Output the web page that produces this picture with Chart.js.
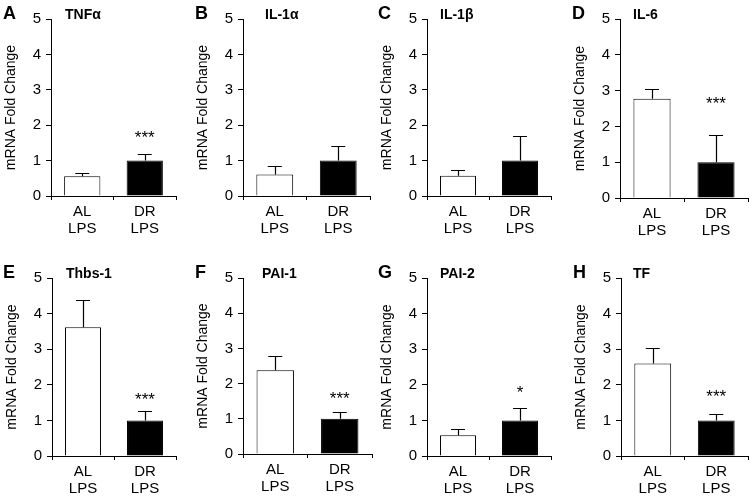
<!DOCTYPE html>
<html>
<head>
<meta charset="utf-8">
<script src="https://cdn.jsdelivr.net/npm/chart.js@4.4.1/dist/chart.umd.min.js"></script>
<style>
  body { margin: 0; background: #fff; width: 750px; height: 498px; position: relative; overflow: hidden; }
  .panel { position: absolute; }
</style>
</head>
<body>
<script>
// DATA
const panelLetters = ['A', 'B', 'C', 'D', 'E', 'F', 'G', 'H'];
const genes = ['TNFα', 'IL-1α', 'IL-1β', 'IL-6', 'Thbs-1', 'PAI-1', 'PAI-2', 'TF'];
const groups = [['AL', 'LPS'], ['DR', 'LPS']];
const yTicks = [0, 1, 2, 3, 4, 5];
const alMean = [0.56, 0.61, 0.57, 2.77, 3.62, 2.38, 0.58, 2.6];
const alErr  = [0.1, 0.24, 0.17, 0.28, 0.76, 0.4, 0.17, 0.43];
const drMean = [1, 1, 1, 1, 1, 1, 1, 1];
const drErr  = [0.2, 0.41, 0.7, 0.77, 0.26, 0.19, 0.36, 0.18];
const sigMark = ['***', '', '', '***', '***', '***', '*', '***'];
const sigLevel = [1.72, null, null, 2.7, 1.66, 1.65, 1.85, 1.72];

// LAYOUT (pixel frame of each panel's plot area)
const axisX  = [51, 243, 427, 620, 52, 243, 427, 621];
const axisR  = [176, 370, 551, 748, 176, 372, 551, 748];
const axisT  = [19, 19, 19, 19, 278, 278, 278, 278];
const axisB  = [196, 196, 196, 198, 456, 454, 456, 456];
const letterX = [3, 195, 378, 572, 3, 195, 378, 573];
const titleX  = [65, 265, 440, 633, 66, 262, 440, 633];

const LEFT = 52, TOP = 22, BOTTOM = 45, RIGHT = 4;
const FONT = "'Liberation Sans', Arial, sans-serif";

const decoPlugin = {
  id: 'panelDeco',
  afterDatasetsDraw(chart, args, opts) {
    const ctx = chart.ctx;
    const y = chart.scales.y;
    ctx.save();
    // error bars (upper only)
    chart.data.datasets[0].data.forEach((v, i) => {
      const bar = chart.getDatasetMeta(0).data[i];
      const yTop = y.getPixelForValue(v + opts.err[i]);
      const yBar = y.getPixelForValue(v);
      ctx.strokeStyle = '#000';
      ctx.lineWidth = 1.2;
      ctx.beginPath();
      ctx.moveTo(Math.round(bar.x) + 0.5, yBar);
      ctx.lineTo(Math.round(bar.x) + 0.5, Math.round(yTop) + 0.5);
      ctx.moveTo(bar.x - 7, Math.round(yTop) + 0.5);
      ctx.lineTo(bar.x + 7, Math.round(yTop) + 0.5);
      ctx.stroke();
    });
    // significance
    if (opts.sig) {
      const bar = chart.getDatasetMeta(0).data[1];
      ctx.fillStyle = '#000';
      ctx.font = '17px ' + FONT;
      ctx.textAlign = 'center';
      ctx.textBaseline = 'middle';
      ctx.fillText(opts.sig, bar.x, y.getPixelForValue(opts.sigAt) + 3);
    }
    // letter + gene name
    ctx.textAlign = 'left';
    ctx.textBaseline = 'alphabetic';
    ctx.fillStyle = '#000';
    ctx.font = 'bold 18px ' + FONT;
    ctx.fillText(opts.letter, opts.letterX, chart.chartArea.top + 0);
    ctx.font = 'bold 14px ' + FONT;
    ctx.fillText(opts.gene, opts.titleX, chart.chartArea.top + 0);
    ctx.restore();
  }
};

panelLetters.forEach((letter, p) => {
  const w = (axisR[p] - axisX[p]) + LEFT + RIGHT;
  const h = (axisB[p] - axisT[p]) + TOP + BOTTOM;
  const left = axisX[p] - LEFT;
  const top = axisT[p] - TOP;

  const div = document.createElement('div');
  div.className = 'panel';
  div.style.left = left + 'px';
  div.style.top = top + 'px';
  div.style.width = w + 'px';
  div.style.height = h + 'px';
  const canvas = document.createElement('canvas');
  div.appendChild(canvas);
  document.body.appendChild(div);

  new Chart(canvas, {
    type: 'bar',
    data: {
      labels: groups,
      datasets: [{
        data: [alMean[p], drMean[p]],
        backgroundColor: ['#ffffff', '#000000'],
        borderColor: '#000000',
        borderWidth: 1,
        categoryPercentage: 1,
        barPercentage: 0.58
      }]
    },
    options: {
      responsive: true,
      maintainAspectRatio: false,
      animation: false,
      layout: { padding: { top: TOP, bottom: 0, left: 0, right: RIGHT } },
      plugins: {
        legend: { display: false },
        tooltip: { enabled: false },
        panelDeco: {
          letter: letter,
          gene: genes[p],
          err: [alErr[p], drErr[p]],
          sig: sigMark[p],
          sigAt: sigLevel[p],
          letterX: letterX[p] - left,
          titleX: titleX[p] - left
        }
      },
      scales: {
        x: {
          afterFit: s => { s.height = BOTTOM; },
          grid: { display: true, drawOnChartArea: false, drawTicks: true, tickLength: 4, color: '#000', offset: true },
          border: { display: true, color: '#000', width: 1 },
          ticks: { color: '#000', padding: 3, font: { family: FONT, size: 15, lineHeight: 1.13 }, maxRotation: 0 }
        },
        y: {
          min: 0,
          max: 5,
          afterFit: s => { s.width = LEFT; },
          afterBuildTicks: s => { s.ticks = yTicks.map(v => ({ value: v })); },
          grid: { display: true, drawOnChartArea: false, drawTicks: true, tickLength: 5, color: '#000' },
          border: { display: true, color: '#000', width: 1 },
          ticks: { color: '#000', padding: 5, font: { family: FONT, size: 15 } },
          title: { display: true, text: 'mRNA Fold Change', color: '#000', font: { family: FONT, size: 14 }, padding: { top: 4, bottom: 0 } }
        }
      }
    },
    plugins: [decoPlugin]
  });
});
</script>
</body>
</html>
